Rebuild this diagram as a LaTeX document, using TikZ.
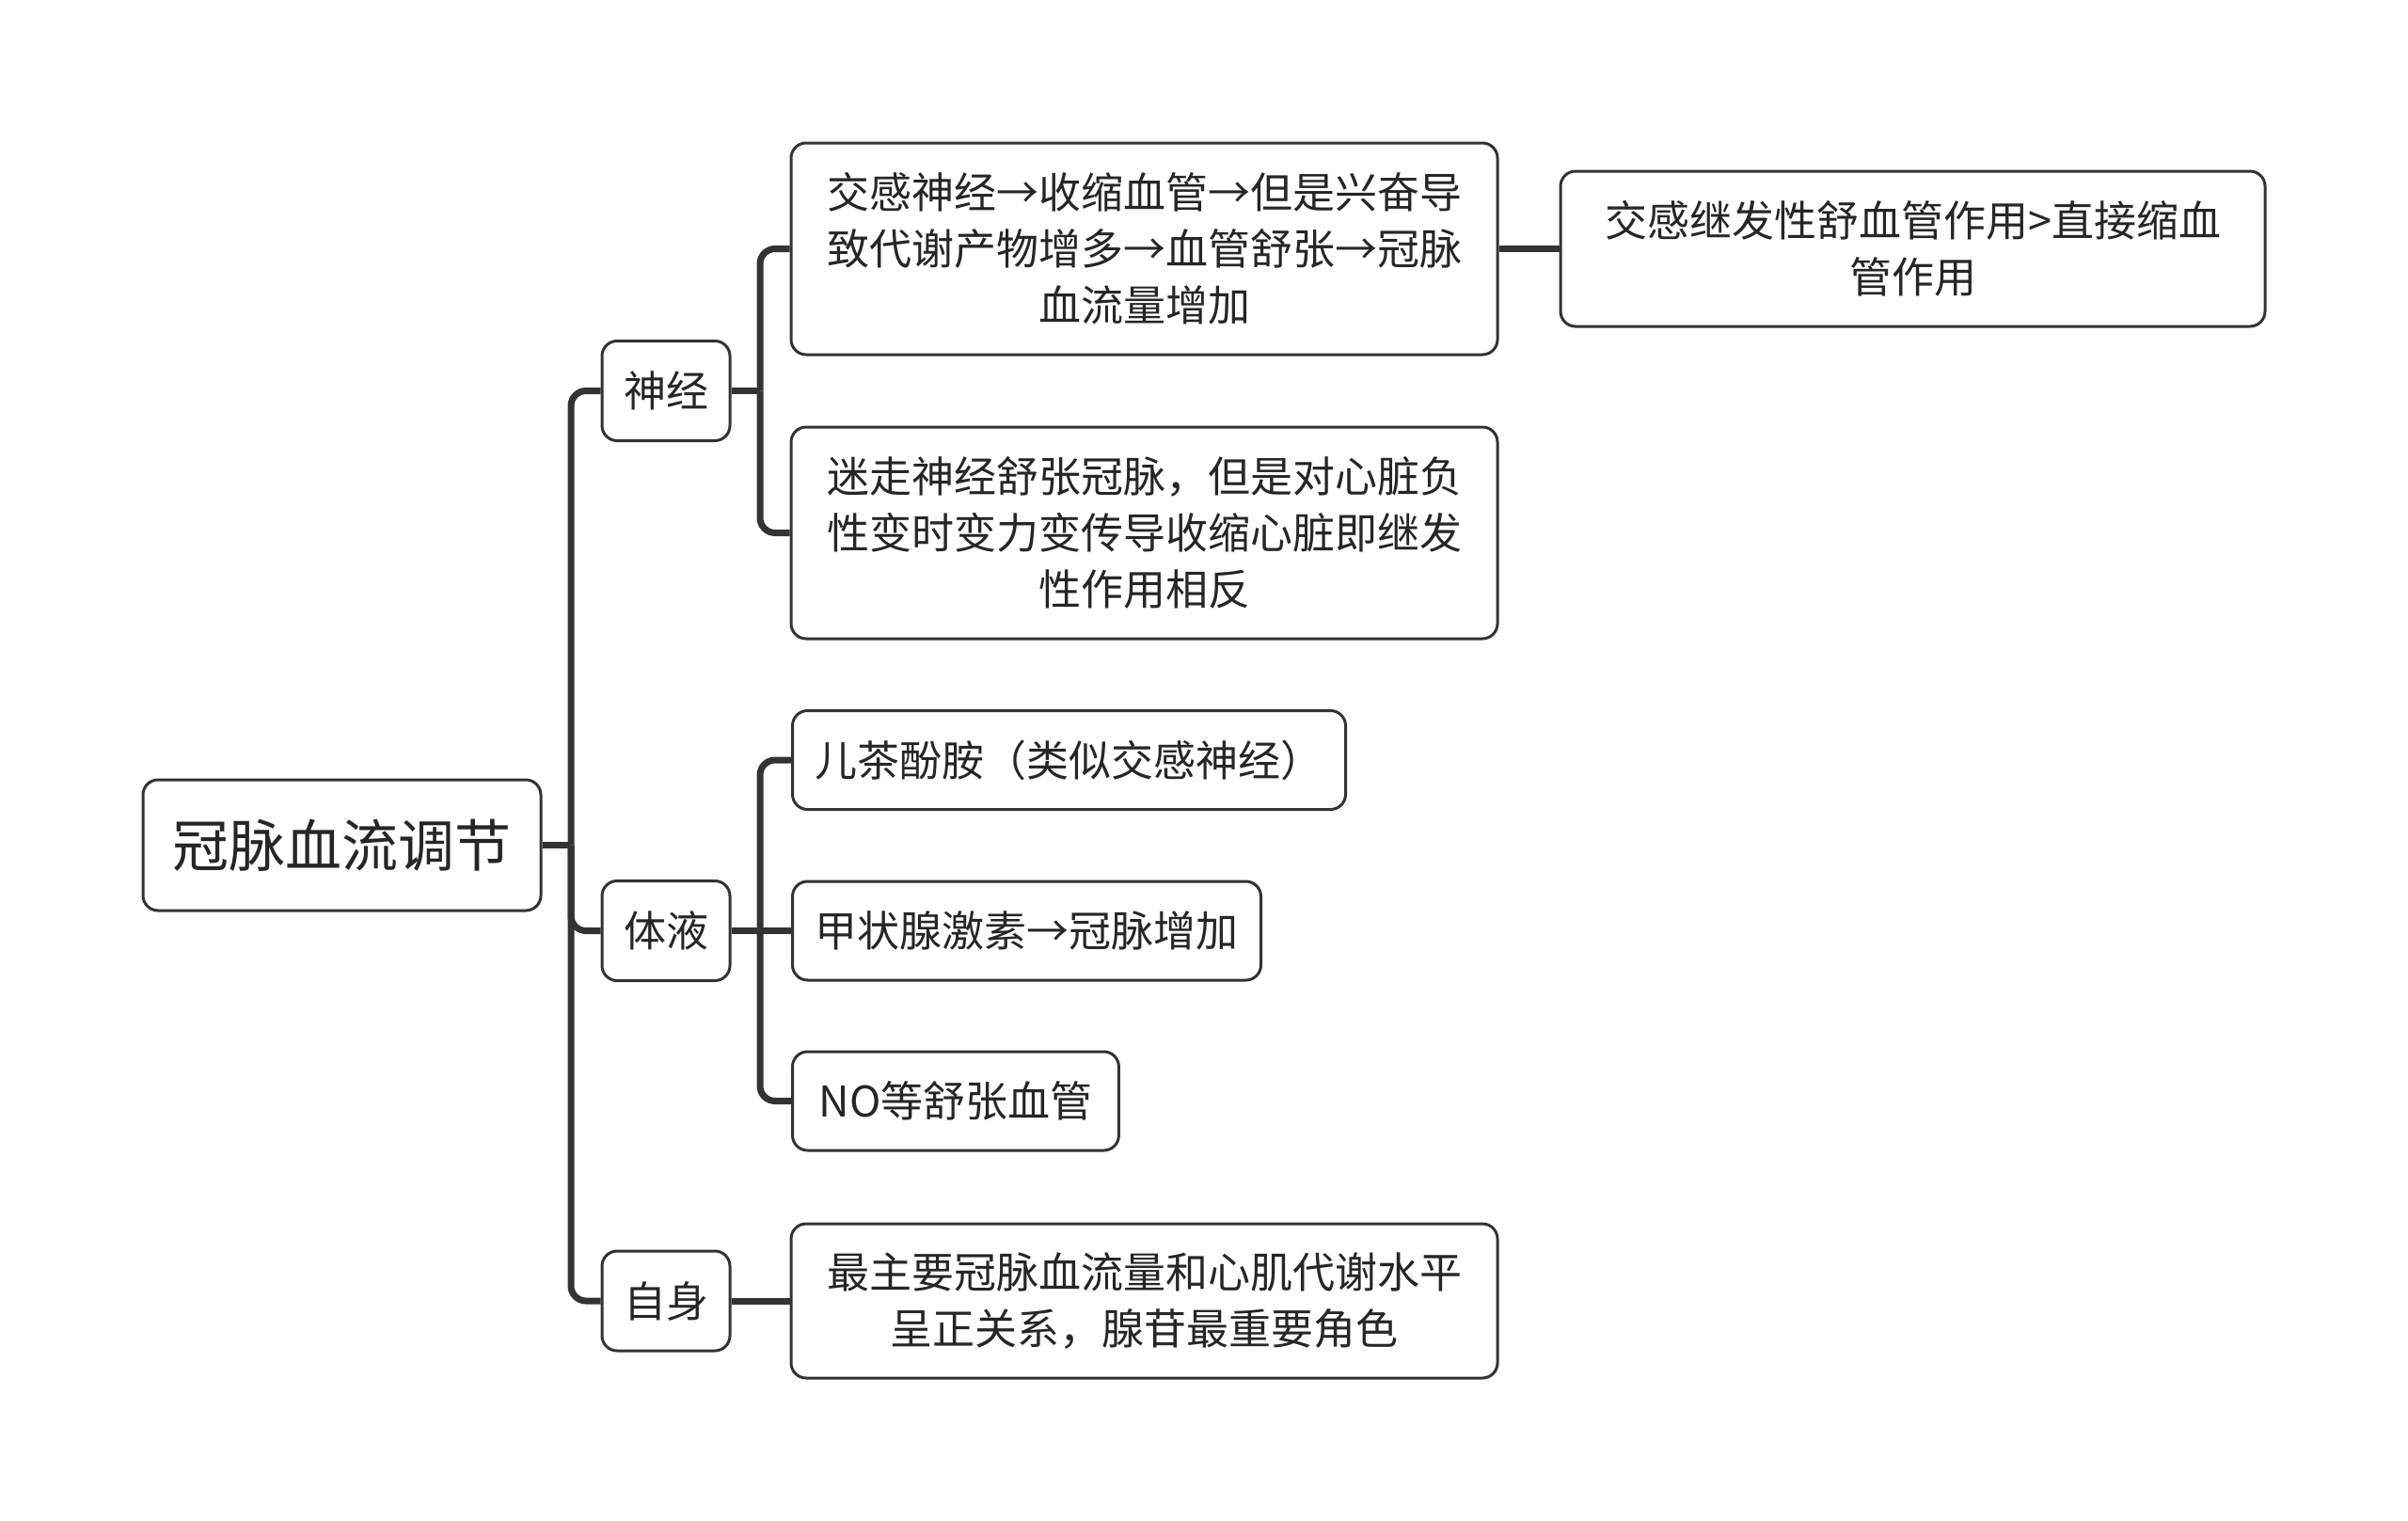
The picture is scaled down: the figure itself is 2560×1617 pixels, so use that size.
\documentclass[tikz,border=0pt]{standalone}
\usepackage{fontspec}
\setmainfont{Noto Sans CJK SC}
\definecolor{ink}{HTML}{333333}
\definecolor{txt}{HTML}{262626}
\begin{document}
\begin{tikzpicture}[x=0.5pt,y=-0.5pt,
  box/.style={draw=ink, line width=1.5pt, rounded corners=8pt, fill=white, text=txt,
    align=center, inner sep=0pt, font=\fontsize{22.5pt}{30pt}\selectfont},
  rootbox/.style={box, minimum width=211.5pt, minimum height=69.5pt, font=\fontsize{30pt}{36pt}\selectfont},
  midbox/.style={box, minimum width=68pt, minimum height=53pt},
  widebox/.style={box, minimum width=375.5pt},
  leftbox/.style={box, anchor=west, inner xsep=12pt, minimum height=52.5pt},
  conn/.style={draw=ink, line width=3.5pt, rounded corners=8pt}
]
\useasboundingbox (0,0) rectangle (2560,1617);
\fill[white] (0,0) rectangle (2560,1617);

\coordinate (j1) at (607,898.5);
\coordinate (j2) at (808,415.5);
\coordinate (j3) at (808,989.5);

\node[rootbox] (root) at (363.5,898.5) {冠脉血流调节};
\node[midbox] (n1) at (708,415.5) {神经};
\node[midbox] (n2) at (708,989.5) {体液};
\node[midbox] (n3) at (708,1383) {自身};

\node[widebox, minimum height=112.5pt] (a) at (1216.5,264.5) {交感神经→收缩血管→但是兴奋导\\致代谢产物增多→血管舒张→冠脉\\血流量增加};
\node[widebox, minimum height=112.5pt] (b) at (1216.5,566.5) {迷走神经舒张冠脉，但是对心脏负\\性变时变力变传导收缩心脏即继发\\性作用相反};
\node[box, minimum width=374.5pt, minimum height=82.5pt] (c) at (2033.5,264.5) {交感继发性舒血管作用>直接缩血\\管作用};

\node[leftbox] (d) at (841,808) {儿茶酚胺（类似交感神经）};
\node[leftbox] (e) at (841,989.5) {甲状腺激素→冠脉增加};
\node[leftbox, inner xsep=14pt] (f) at (841,1170.5) {NO等舒张血管};

\node[widebox, minimum height=82pt] (g) at (1216.5,1383) {最主要冠脉血流量和心肌代谢水平\\呈正关系，腺苷最重要角色};

\begin{scope}[on background layer/.try]
\end{scope}

\draw[conn] (root.east) -- (j1);
\draw[conn] (j1) |- (n1.west);
\draw[conn] (j1) |- (n2.west);
\draw[conn] (j1) |- (n3.west);

\draw[conn] (n1.east) -- (j2);
\draw[conn] (j2) |- (a.west);
\draw[conn] (j2) |- (b.west);

\draw[conn] (n2.east) -- (j3);
\draw[conn] (j3) |- (d.west);
\draw[conn] (j3) -- (e.west);
\draw[conn] (j3) |- (f.west);

\draw[conn] (n3.east) -- (g.west);
\draw[conn] (a.east) -- (c.west);
\end{tikzpicture}
\end{document}
